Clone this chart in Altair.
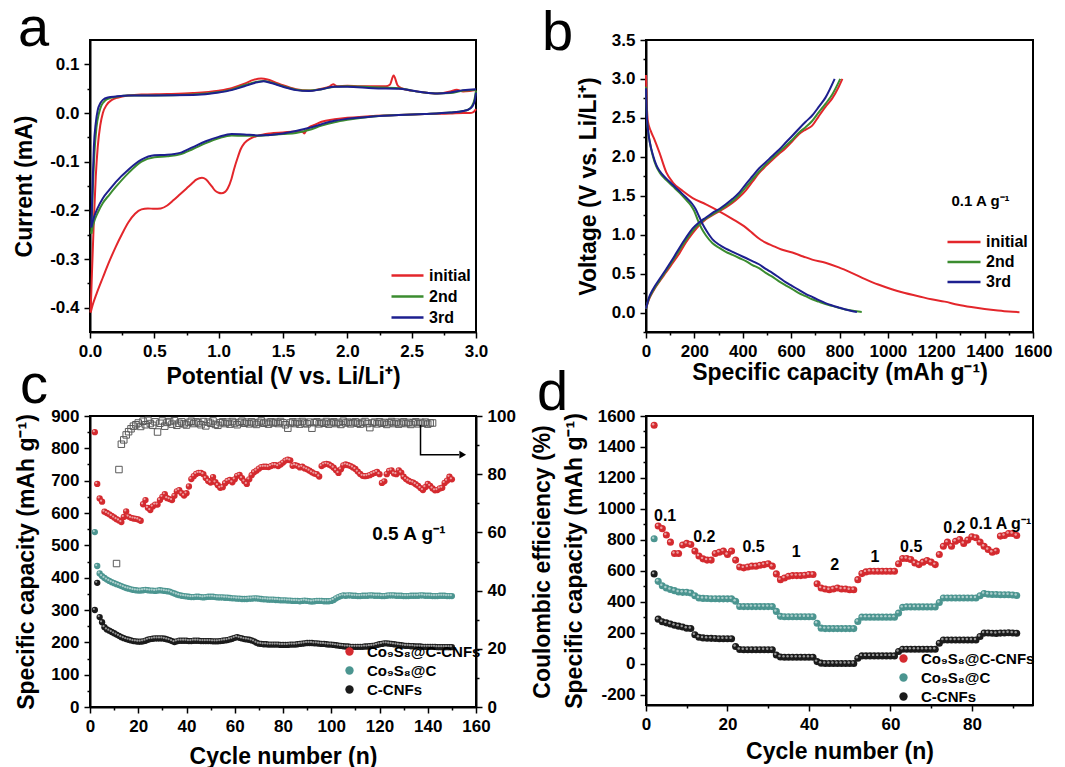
import altair as alt
import pandas as pd

FONT = "Liberation Sans"
RED_L, GREEN_L, BLUE_L = "#e3262b", "#3b8c2f", "#1d1f8f"
RED_P, TEAL_P, BLACK_P = "#d42a2f", "#4b9590", "#1b1b1b"

# ---------------- panel a : CV curves ----------------
a_series = ["initial", "2nd", "3rd"]
a_init_cath_V = [3.0, 2.98, 2.95, 2.9, 2.8, 2.6, 2.4, 2.2, 2.0, 1.9, 1.8, 1.75, 1.7, 1.68, 1.665, 1.65, 1.6, 1.5, 1.4,
                 1.3, 1.25, 1.2, 1.17, 1.15, 1.12, 1.1, 1.07, 1.05, 1.02, 1.0, 0.97, 0.95, 0.92, 0.9, 0.87, 0.85, 0.82,
                 0.8, 0.75, 0.7, 0.65, 0.6, 0.55, 0.5, 0.45, 0.4, 0.35, 0.3, 0.25, 0.2, 0.15, 0.1, 0.05, 0.02, 0.005]
a_init_cath_I = [0.008, 0.002, 0.0, 0.0, -0.001, -0.002, -0.004, -0.006, -0.01, -0.013, -0.018, -0.024, -0.03, -0.036,
                 -0.042, -0.038, -0.038, -0.04, -0.042, -0.047, -0.052, -0.062, -0.075, -0.09, -0.115, -0.135, -0.155,
                 -0.162, -0.165, -0.164, -0.159, -0.152, -0.142, -0.136, -0.133, -0.134, -0.138, -0.143, -0.155, -0.167,
                 -0.179, -0.19, -0.196, -0.197, -0.196, -0.198, -0.207, -0.224, -0.248, -0.275, -0.305, -0.338, -0.372,
                 -0.395, -0.41]
a_init_anod_V = [0.005, 0.015, 0.03, 0.045, 0.06, 0.08, 0.1, 0.13, 0.17, 0.22, 0.3, 0.4, 0.6, 0.8, 1.0, 1.1, 1.2, 1.27,
                 1.33, 1.38, 1.45, 1.5, 1.6, 1.7, 1.8, 1.86, 1.89, 1.92, 2.0, 2.1, 2.2, 2.3, 2.33, 2.36, 2.39, 2.42, 2.5,
                 2.6, 2.7, 2.8, 2.85, 2.9, 2.95, 3.0]
a_init_anod_I = [-0.41, -0.33, -0.22, -0.13, -0.07, -0.025, 0.0, 0.017, 0.027, 0.032, 0.036, 0.038, 0.039, 0.041, 0.046,
                 0.051, 0.06, 0.068, 0.071, 0.069, 0.062, 0.057, 0.049, 0.046, 0.05, 0.054, 0.059, 0.055, 0.056, 0.055,
                 0.055, 0.055, 0.058, 0.077, 0.057, 0.051, 0.046, 0.042, 0.04, 0.044, 0.048, 0.044, 0.045, 0.047]
a_cath_V = [3.0, 2.99, 2.97, 2.94, 2.9, 2.8, 2.6, 2.4, 2.2, 2.0, 1.9, 1.8, 1.7, 1.6, 1.5, 1.4, 1.3, 1.2, 1.1, 1.0, 0.9,
            0.8, 0.7, 0.6, 0.5, 0.4, 0.3, 0.2, 0.15, 0.1, 0.06, 0.03, 0.01]
a_2nd_cath_I = [0.046, 0.03, 0.015, 0.007, 0.004, 0.001, -0.002, -0.004, -0.007, -0.014, -0.019, -0.026, -0.035, -0.041,
                -0.043, -0.045, -0.047, -0.047, -0.046, -0.052, -0.062, -0.074, -0.085, -0.089, -0.091, -0.1, -0.123,
                -0.152, -0.168, -0.185, -0.205, -0.225, -0.248]
a_3rd_cath_I = [0.042, 0.025, 0.013, 0.007, 0.004, 0.001, -0.002, -0.004, -0.007, -0.012, -0.016, -0.023, -0.031, -0.037,
                -0.042, -0.045, -0.046, -0.044, -0.043, -0.049, -0.058, -0.07, -0.082, -0.086, -0.087, -0.096, -0.116,
                -0.142, -0.158, -0.175, -0.195, -0.215, -0.235]
a_2nd_anod_V = [0.01, 0.02, 0.035, 0.05, 0.07, 0.09, 0.12, 0.16, 0.2, 0.3, 0.5, 0.8, 1.0, 1.1, 1.2, 1.3, 1.35, 1.4, 1.5,
                1.6, 1.7, 1.8, 1.9, 2.0, 2.2, 2.4, 2.5, 2.6, 2.7, 2.8, 2.9, 3.0]
a_2nd_anod_I = [-0.248, -0.17, -0.08, -0.03, 0.0, 0.016, 0.026, 0.031, 0.033, 0.036, 0.036, 0.038, 0.043, 0.048, 0.057,
                0.064, 0.066, 0.063, 0.055, 0.048, 0.046, 0.049, 0.054, 0.055, 0.053, 0.051, 0.046, 0.042, 0.04, 0.041,
                0.046, 0.048]
a_3rd_anod_V = [0.01, 0.02, 0.03, 0.045, 0.06, 0.08, 0.1, 0.14, 0.2, 0.3, 0.5, 0.8, 1.0, 1.1, 1.2, 1.3, 1.35, 1.4, 1.5,
                1.6, 1.7, 1.8, 1.9, 2.0, 2.2, 2.4, 2.5, 2.6, 2.7, 2.8, 2.9, 3.0]
a_3rd_anod_I = [-0.235, -0.15, -0.07, -0.02, 0.006, 0.02, 0.027, 0.032, 0.034, 0.036, 0.036, 0.037, 0.042, 0.047, 0.055,
                0.063, 0.065, 0.062, 0.054, 0.047, 0.045, 0.049, 0.054, 0.054, 0.051, 0.05, 0.046, 0.042, 0.04, 0.042,
                0.047, 0.049]

# ---------------- panel b : charge / discharge ----------------
b_init_dis_C = [0, 3, 8, 20, 35, 56, 84, 111, 152, 193, 248, 303, 358, 413, 440, 467, 500, 522, 560, 605, 650, 687, 742,
                797, 850, 906, 960, 1016, 1070, 1126, 1180, 1235, 1290, 1345, 1400, 1455, 1500, 1544]
b_init_dis_V = [3.05, 2.7, 2.45, 2.33, 2.22, 2.05, 1.8, 1.67, 1.56, 1.47, 1.39, 1.3, 1.2, 1.09, 1.02, 0.95, 0.89, 0.86,
                0.81, 0.77, 0.72, 0.68, 0.64, 0.58, 0.51, 0.43, 0.36, 0.3, 0.25, 0.21, 0.17, 0.14, 0.1, 0.07, 0.045,
                0.025, 0.012, 0.005]
b_init_chg_C = [0, 10, 29, 56, 84, 111, 138, 165, 193, 220, 248, 275, 303, 330, 358, 385, 413, 440, 467, 495, 522, 550,
                577, 605, 632, 660, 687, 714, 742, 770, 797, 812]
b_init_chg_V = [0.05, 0.15, 0.27, 0.4, 0.52, 0.64, 0.76, 0.9, 1.02, 1.12, 1.2, 1.25, 1.3, 1.35, 1.41, 1.48, 1.57, 1.68,
                1.79, 1.88, 1.96, 2.04, 2.11, 2.2, 2.29, 2.35, 2.4, 2.52, 2.64, 2.75, 2.9, 3.0]
b_2nd_dis_C = [0, 3, 8, 15, 29, 42, 56, 84, 111, 138, 165, 185, 200, 215, 230, 248, 275, 303, 330, 358, 385, 413, 440,
               467, 495, 522, 550, 577, 605, 632, 660, 687, 714, 742, 770, 797, 825, 850, 870, 892]
b_2nd_dis_V = [2.9, 2.55, 2.35, 2.2, 2.0, 1.88, 1.8, 1.7, 1.62, 1.54, 1.45, 1.38, 1.3, 1.18, 1.08, 0.99, 0.89, 0.83,
               0.78, 0.74, 0.7, 0.66, 0.61, 0.57, 0.51, 0.46, 0.4, 0.35, 0.3, 0.25, 0.21, 0.17, 0.14, 0.11, 0.085,
               0.06, 0.04, 0.025, 0.015, 0.008]
b_3rd_dis_C = [0, 3, 8, 15, 29, 42, 56, 84, 111, 138, 165, 190, 205, 220, 235, 250, 275, 303, 330, 358, 385, 413, 440,
               467, 495, 522, 550, 577, 605, 632, 660, 687, 714, 742, 770, 797, 825, 850, 872]
b_3rd_dis_V = [2.88, 2.55, 2.35, 2.2, 2.02, 1.9, 1.82, 1.72, 1.64, 1.56, 1.48, 1.4, 1.33, 1.23, 1.13, 1.05, 0.94, 0.87,
               0.82, 0.78, 0.74, 0.7, 0.66, 0.62, 0.56, 0.51, 0.45, 0.39, 0.34, 0.29, 0.24, 0.2, 0.16, 0.12, 0.09,
               0.065, 0.04, 0.02, 0.008]
b_2nd_chg_C = [0, 10, 29, 56, 84, 111, 138, 165, 193, 220, 248, 275, 303, 330, 358, 385, 413, 440, 467, 495, 522, 550,
               577, 605, 632, 660, 687, 714, 742, 770, 803]
b_2nd_chg_V = [0.05, 0.16, 0.28, 0.41, 0.54, 0.67, 0.8, 0.93, 1.05, 1.14, 1.21, 1.26, 1.31, 1.37, 1.43, 1.51, 1.61,
               1.71, 1.81, 1.9, 1.98, 2.06, 2.14, 2.22, 2.31, 2.38, 2.46, 2.57, 2.68, 2.8, 3.0]
b_3rd_chg_C = [0, 10, 29, 56, 84, 111, 138, 165, 193, 220, 248, 275, 303, 330, 358, 385, 413, 440, 467, 495, 522, 550,
               577, 605, 632, 660, 687, 714, 742, 780]
b_3rd_chg_V = [0.05, 0.17, 0.3, 0.43, 0.56, 0.69, 0.83, 0.96, 1.08, 1.16, 1.22, 1.28, 1.33, 1.39, 1.46, 1.54, 1.65,
               1.75, 1.85, 1.93, 2.01, 2.09, 2.18, 2.27, 2.36, 2.45, 2.53, 2.64, 2.76, 3.0]
b_note = ["0.1 A g⁻¹"]
b_note_x = [1263]
b_note_y = [1.43]

# ---------------- panel c : cycling at 0.5 A/g ----------------
c_series = ["Co₉S₈@C-CNFs", "Co₉S₈@C", "C-CNFs"]
c_first_cycle = 2
c_red = [850, 690, 645, 635, 604, 600, 596, 591, 586, 581, 577, 572, 588, 605, 589, 585, 583, 582, 580, 576,
         627, 640, 616, 609, 620, 626, 626, 640, 650, 658, 646, 643, 640, 653, 667, 671, 661, 654, 661, 682,
         705, 714, 721, 724, 724, 720, 708, 699, 694, 711, 695, 686, 678, 680, 692, 699, 702, 695, 704, 715,
         718, 708, 698, 690, 704, 717, 726, 731, 737, 742, 743, 743, 742, 745, 748, 748, 745, 750, 756, 762,
         765, 763, 746, 748, 746, 741, 743, 738, 735, 731, 726, 722, 720, 713, 745, 750, 752, 750, 746, 740,
         732, 724, 735, 747, 750, 748, 745, 741, 736, 728, 721, 715, 714, 715, 717, 721, 724, 727, 720, 693,
         698, 720, 730, 732, 722, 720, 732, 725, 712, 705, 700, 696, 694, 689, 684, 677, 671, 680, 690, 684,
         676, 670, 671, 676, 678, 693, 700, 712, 704]
c_teal = [541, 436, 413, 405, 399, 394, 390, 386, 383, 380, 377, 374, 371, 368, 366, 364, 362, 361, 360,
          360, 361, 362, 361, 360, 360, 359, 360, 361, 360, 359, 358, 357, 354, 351, 348, 346, 344, 343, 342,
          341, 340, 340, 341, 341, 340, 339, 340, 341, 341, 341, 340, 339, 339, 339, 338, 338, 337, 336, 336,
          335, 335, 334, 334, 334, 335, 335, 336, 336, 335, 334, 333, 333, 332, 332, 332, 331, 331, 330, 330,
          330, 329, 329, 328, 328, 328, 327, 328, 329, 328, 327, 326, 327, 328, 328, 328, 327, 327, 327, 328,
          331, 336, 340, 343, 345,
          344, 345, 345, 344, 344, 343, 343, 344, 344, 344, 345, 345, 344, 344, 344, 343, 343, 344, 345, 345,
          345, 344, 344, 344, 343, 343, 343, 344, 344, 344, 344, 345, 345, 344, 344, 344, 343, 343, 343, 344,
          344, 344, 343, 343, 343]
c_black = [300, 384, 278, 262, 247, 240, 236, 232, 228, 224, 220, 216, 213, 210, 208, 206, 204, 203, 202, 202,
           203, 205, 208, 210, 211, 212, 212, 212, 212, 211, 209, 207, 204, 201, 203, 205, 205,
           205, 205, 204, 204, 205, 205, 205, 204, 204, 204, 204, 204, 203, 203, 203, 204, 205, 206, 207, 209,
           211, 214, 216, 214, 212, 210, 209, 208, 206, 203, 199, 196,
           195, 194, 194, 193, 193, 193, 193, 193, 192, 192, 192, 192, 193, 193, 193, 194, 195, 196,
           197, 198, 198, 198, 197, 197, 196, 195, 195, 194, 193, 193,
           192, 191, 190, 189, 188, 187, 187, 186, 186, 186, 186, 186, 186, 187, 187, 188, 189, 190,
           192, 194, 195, 197, 197, 196, 195, 194, 193, 192, 191, 190,
           189, 189, 188, 188, 187, 187, 187, 186, 186, 186, 186, 186, 186, 185, 185, 185, 185, 185, 185, 185]
c_ce_first_cycle = 11
c_ce = [49.3, 81.6, 90.3, 91.8, 93.5, 94.6, 95.6, 96.5, 97.0, 97.6, 96.4, 98.2, 97.0, 98.5, 97.4, 96.8, 98.0, 94.5,
        97.5, 98.3, 96.5, 97.8, 98.1, 97.2, 98.4, 96.8, 97.5, 98.0, 97.3, 96.9, 97.8, 98.2, 97.4, 98.0, 97.6, 97.0,
        98.1, 96.6, 97.9, 97.5, 98.3, 97.1, 96.8, 97.7, 98.0, 97.4, 97.9, 97.2, 98.1, 97.6, 97.0, 97.8, 98.2, 97.5,
        97.9, 97.3, 98.0, 97.6, 97.1, 97.8, 98.3, 97.5, 97.8, 97.2, 98.0, 97.6, 97.9, 97.4, 98.1, 97.7, 97.0, 95.8,
        97.6, 98.0, 97.4, 97.9, 97.2, 98.1, 97.6, 97.3, 97.9, 95.8, 97.7, 98.0, 97.3, 97.8, 97.5, 98.1, 97.2, 97.7,
        98.0, 97.4, 97.8, 97.1, 98.2, 97.6, 97.9, 97.3, 97.7, 98.0, 97.5, 97.2, 97.8, 98.1, 97.4, 96.0, 97.6, 97.9,
        97.3, 98.0, 97.5, 97.8, 97.1, 97.7, 98.1, 97.4, 97.9, 97.2, 97.6, 98.0, 97.4, 97.8, 97.1, 97.7, 98.0, 97.3,
        97.8, 97.5, 97.9, 97.2, 97.6, 97.6]
c_arrow_x = [137, 137, 153]
c_arrow_y = [97.0, 86.7, 86.7]
c_head_x = [154.5]
c_head_y = [86.7]
c_note = ["0.5 A g⁻¹"]
c_note_x = [117]
c_note_y = [534]

# ---------------- panel d : rate capability ----------------
d_first_cycle = 2
d_red = [1540, 890, 873, 832, 786, 713, 713, 767, 778, 771, 728, 696, 678, 670, 670, 713, 721, 728, 706, 728,
         670, 626, 620, 626, 631, 631, 637, 641, 646, 631, 581, 544, 555, 566, 570, 570, 570, 572, 577, 577,
         518, 490, 484, 479, 484, 490, 484, 484, 479, 479, 544, 583, 594, 598, 598, 598, 598, 598, 598, 598,
         646, 680, 680, 674, 652, 641, 657, 667, 657, 641, 706, 760, 786, 760, 792, 803, 778, 799, 821, 814,
         786, 760, 739, 721, 728, 825, 829, 842, 842, 829]
d_teal = [808, 533, 505, 490, 480, 473, 464, 462, 462, 458, 440, 425, 423, 422, 421, 421, 420, 420, 420, 420,
          404, 371, 370, 370, 370, 370, 370, 370, 370, 370, 339, 307, 305, 305, 304, 304, 304, 304, 304, 304,
          263, 231, 228, 228, 228, 228, 228, 228, 228, 228, 274, 302, 302, 302, 302, 302, 302, 302, 302, 302,
          328, 365, 368, 368, 368, 368, 368, 368, 368, 368, 397, 425, 425, 425, 425, 425, 425, 425, 425, 425,
          440, 455, 450, 448, 448, 447, 447, 446, 445, 442]
d_black = [581, 289, 272, 265, 258, 250, 244, 238, 230, 229, 188, 172, 168, 166, 165, 164, 163, 162, 162, 162,
           112, 93, 92, 92, 92, 92, 92, 92, 92, 92, 58, 45, 43, 43, 43, 43, 43, 43, 43, 43,
           15, 5, 3, 3, 3, 3, 3, 3, 3, 3, 37, 52, 52, 52, 52, 52, 52, 52, 52, 52,
           80, 95, 95, 95, 95, 95, 95, 95, 95, 95, 134, 155, 155, 155, 155, 155, 155, 155, 155, 155,
           177, 199, 200, 198, 197, 199, 200, 201, 200, 198]
d_notes = ["0.1", "0.2", "0.5", "1", "2", "1", "0.5", "0.2", "0.1 A g⁻¹"]
d_note_x = [4.7, 14.3, 26.4, 36.9, 46.3, 56.2, 65.1, 75.7, 87.0]
d_note_y = [955, 821, 756, 723, 641, 691, 756, 879, 900]


# ---------------- helpers ----------------
def frange(start, stop, step, nd=3):
    out, v = [], start
    while v <= stop + 1e-9:
        out.append(round(v, nd))
        v += step
    return out


def mk_axis(values, test, fmt, title, orient, title_pad, **kw):
    return alt.Axis(values=values, title=title, orient=orient,
                    labelExpr=f"({test}) ? {fmt} : ''",
                    tickSize={"condition": {"test": test, "value": 6}, "value": 3},
                    labelOverlap=False, labelFlush=False, labelPadding=5,
                    titlePadding=title_pad, grid=False, **kw)


def line_df(parts):
    rows = []
    for s, br, xs, ys in parts:
        for x, y in zip(xs, ys):
            rows.append({"x": x, "y": y, "s": s, "b": s + "-" + br})
    return pd.DataFrame(rows)


def pts_df(first, series_vals):
    rows = []
    for s, vals in series_vals:
        for i, v in enumerate(vals):
            rows.append({"n": first + i, "cap": v, "s": s})
    return pd.DataFrame(rows)


def letter(t, px, py):
    # panel label placed relative to the plot's top-left corner
    return alt.Chart(pd.DataFrame({"t": [t]})).mark_text(
        font=FONT, fontSize=56, align="left", baseline="alphabetic", color="black"
    ).encode(text="t:N", x=alt.value(px), y=alt.value(py))


line_legend = dict(title=None, orient="none", symbolType="stroke", symbolStrokeWidth=2.5,
                   labelFontSize=16, labelFontWeight="bold", labelFont=FONT, labelColor="black",
                   padding=0, labelOffset=4, rowPadding=0)
pt_legend = dict(title=None, orient="none", symbolType="circle", symbolSize=70,
                 labelFontSize=15, labelFontWeight="bold", labelFont=FONT,
                 labelColor="black", padding=0, labelOffset=10, rowPadding=3, symbolStrokeWidth=0)

# ---------------- panel a chart ----------------
a_df = line_df([
    ("initial", "c", a_init_cath_V, a_init_cath_I), ("initial", "a", a_init_anod_V, a_init_anod_I),
    ("2nd", "c", a_cath_V, a_2nd_cath_I), ("2nd", "a", a_2nd_anod_V, a_2nd_anod_I),
    ("3rd", "c", a_cath_V, a_3rd_cath_I), ("3rd", "a", a_3rd_anod_V, a_3rd_anod_I),
])
a_lines = alt.Chart(a_df).mark_line(strokeWidth=2, interpolate="monotone").encode(
    x=alt.X("x:Q", scale=alt.Scale(domain=[0, 3], nice=False, zero=False),
            axis=mk_axis(frange(0, 3, 0.25), "abs(datum.value*2-round(datum.value*2))<0.001",
                         "format(datum.value,'.1f')", "Potential (V vs. Li/Li⁺)", "bottom", 6)),
    y=alt.Y("y:Q", scale=alt.Scale(domain=[-0.45, 0.15], nice=False, zero=False),
            axis=mk_axis(frange(-0.4, 0.1, 0.05), "abs(datum.value*10-round(datum.value*10))<0.001",
                         "(datum.value<-0.001?'-':'')+format(abs(datum.value),'.1f')", "Current (mA)", "left", 13)),
    color=alt.Color("s:N", scale=alt.Scale(domain=a_series, range=[RED_L, GREEN_L, BLUE_L]),
                    legend=alt.Legend(legendX=300, legendY=225, symbolSize=1024, clipHeight=21, **line_legend)),
    detail="b:N",
)
a_chart = alt.layer(a_lines, letter("a", -72, 6)).properties(width=386, height=292)

# ---------------- panel b chart ----------------
b_df = line_df([
    ("initial", "d", b_init_dis_C, b_init_dis_V), ("initial", "c", b_init_chg_C, b_init_chg_V),
    ("2nd", "d", b_2nd_dis_C, b_2nd_dis_V), ("2nd", "c", b_2nd_chg_C, b_2nd_chg_V),
    ("3rd", "d", b_3rd_dis_C, b_3rd_dis_V), ("3rd", "c", b_3rd_chg_C, b_3rd_chg_V),
])
b_x = alt.X("x:Q", scale=alt.Scale(domain=[0, 1600], nice=False, zero=False),
            axis=mk_axis(frange(0, 1600, 100, 0), "datum.value%200==0", "format(datum.value,'d')",
                         "Specific capacity (mAh g⁻¹)", "bottom", 2))
b_y = alt.Y("y:Q", scale=alt.Scale(domain=[-0.25, 3.5], nice=False, zero=False),
            axis=mk_axis(frange(-0.25, 3.5, 0.25), "abs(datum.value*2-round(datum.value*2))<0.001",
                         "format(datum.value,'.1f')", "Voltage (V vs. Li/Li⁺)", "left", 11))
b_lines = alt.Chart(b_df).mark_line(strokeWidth=2, interpolate="monotone").encode(
    x=b_x, y=b_y,
    color=alt.Color("s:N", scale=alt.Scale(domain=a_series, range=[RED_L, GREEN_L, BLUE_L]),
                    legend=alt.Legend(legendX=300, legendY=192, symbolSize=1089, clipHeight=20, **line_legend)),
    detail="b:N",
)
b_text = alt.Chart(pd.DataFrame({"x": b_note_x, "y": b_note_y, "t": b_note})).mark_text(
    align="left", baseline="middle", font=FONT, fontSize=15, fontWeight="bold", color="black"
).encode(x=b_x, y=b_y, text="t:N")
b_chart = alt.layer(b_lines, b_text, letter("b", -104, 10)).properties(width=387, height=292)

# ---------------- panel c chart ----------------
c_df = pts_df(c_first_cycle, [(c_series[0], c_red), (c_series[1], c_teal), (c_series[2], c_black)])
ce_df = pd.DataFrame({"n": list(range(c_ce_first_cycle, c_ce_first_cycle + len(c_ce))), "ce": c_ce})
pt_scale = alt.Scale(domain=c_series, range=[RED_P, TEAL_P, BLACK_P])
c_x = alt.X("n:Q", scale=alt.Scale(domain=[0, 160], nice=False, zero=False),
            axis=mk_axis(frange(0, 160, 10, 0), "datum.value%20==0", "format(datum.value,'d')",
                         "Cycle number (n)", "bottom", 11))
c_y = alt.Y("cap:Q", scale=alt.Scale(domain=[0, 900], nice=False, zero=False),
            axis=mk_axis(frange(0, 900, 50, 0), "datum.value%100==0", "format(datum.value,'d')",
                         "Specific capacity (mAh g⁻¹)", "left", 12))
c_ry = alt.Y("ce:Q", scale=alt.Scale(domain=[0, 100], nice=False, zero=False),
             axis=mk_axis(frange(0, 100, 10, 0), "datum.value%20==0", "format(datum.value,'d')",
                          "Coulombic efficiency (%)", "right", 16, titleAngle=270, titleBaseline="top"))
c_pts = alt.Chart(c_df).mark_circle(size=40, opacity=1).encode(
    x=c_x, y=c_y,
    color=alt.Color("s:N", scale=pt_scale, legend=alt.Legend(legendX=252, legendY=228, **pt_legend)),
)
c_hl = alt.Chart(c_df).mark_circle(size=5, color="white", opacity=0.55, xOffset=-1, yOffset=-1).encode(
    x=c_x, y=c_y)
c_txt = alt.Chart(pd.DataFrame({"n": c_note_x, "cap": c_note_y, "t": c_note})).mark_text(
    align="left", baseline="middle", font=FONT, fontSize=19, fontWeight="bold", color="black"
).encode(x=c_x, y=c_y, text="t:N")
c_ce_pts = alt.Chart(ce_df).mark_point(shape="square", filled=False, size=42, color="#5a5a5a", strokeWidth=1,
                                       opacity=1).encode(x=c_x, y=c_ry)
c_arr = alt.Chart(pd.DataFrame({"n": c_arrow_x, "ce": c_arrow_y, "o": [0, 1, 2]})).mark_line(
    color="black", strokeWidth=1.5).encode(x=c_x, y=c_ry, order="o:Q")
c_head = alt.Chart(pd.DataFrame({"n": c_head_x, "ce": c_head_y})).mark_point(
    shape="triangle-right", filled=True, size=60, color="black", opacity=1).encode(x=c_x, y=c_ry)
c_chart = alt.layer(alt.layer(c_pts, c_hl, c_txt, letter("c", -70, -13)),
                    alt.layer(c_ce_pts, c_arr, c_head)).resolve_scale(
    y="independent").properties(width=386, height=291)

# ---------------- panel d chart ----------------
d_df = pts_df(d_first_cycle, [(c_series[0], d_red), (c_series[1], d_teal), (c_series[2], d_black)])
d_x = alt.X("n:Q", scale=alt.Scale(domain=[0, 95], nice=False, zero=False),
            axis=mk_axis(frange(0, 90, 10, 0), "datum.value%20==0", "format(datum.value,'d')",
                         "Cycle number (n)", "bottom", 8))
d_y = alt.Y("cap:Q", scale=alt.Scale(domain=[-265, 1600], nice=False, zero=False),
            axis=mk_axis(frange(-200, 1600, 100, 0), "datum.value%200==0",
                         "(datum.value<0?'-':'')+format(abs(datum.value),'d')",
                         "Specific capacity (mAh g⁻¹)", "left", 11))
d_pts = alt.Chart(d_df).mark_circle(size=50, opacity=1).encode(
    x=d_x, y=d_y,
    color=alt.Color("s:N", scale=pt_scale, legend=alt.Legend(legendX=250, legendY=235, **pt_legend)),
)
d_hl = alt.Chart(d_df).mark_circle(size=6, color="white", opacity=0.55, xOffset=-1, yOffset=-1).encode(
    x=d_x, y=d_y)
d_txt = alt.Chart(pd.DataFrame({"n": d_note_x, "cap": d_note_y, "t": d_notes})).mark_text(
    align="center", baseline="middle", font=FONT, fontSize=16, fontWeight="bold", color="black"
).encode(x=d_x, y=d_y, text="t:N")
d_chart = alt.layer(d_pts, d_hl, d_txt, letter("d", -109, -6)).properties(width=387, height=289)

chart = alt.concat(a_chart, b_chart, c_chart, d_chart, columns=2, bounds="flush",
                   spacing={"row": 84, "column": 170}).resolve_scale(color="independent", x="independent",
                                                                      y="independent").properties(
    padding={"left": 12, "top": 0, "right": 5, "bottom": 5}, background="white"
).configure_view(stroke="black", strokeWidth=2).configure_axis(
    domainColor="black", domainWidth=2, tickColor="black", tickWidth=1.5, labelOverlap=False,
    labelFont=FONT, labelFontSize=17, labelFontWeight="bold", labelColor="black",
    titleFont=FONT, titleFontSize=23, titleFontWeight="bold", titleColor="black", grid=False)

chart.save("out.html", embed_options={"renderer": "svg", "actions": False})
